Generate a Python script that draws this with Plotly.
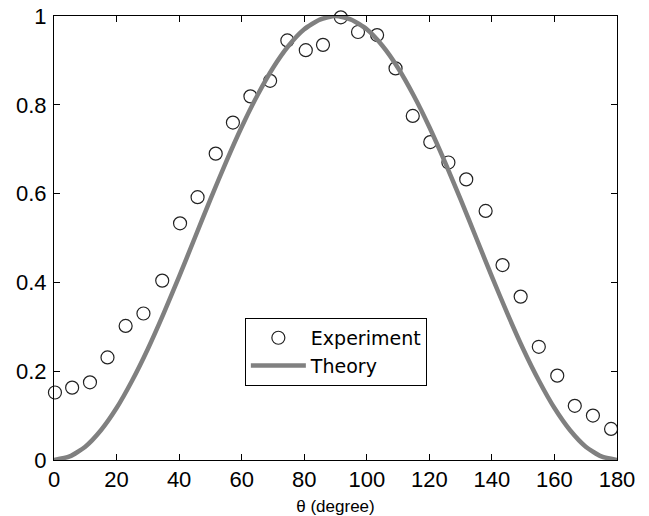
import plotly.graph_objects as go

# Experimental data (theta in degrees, normalized intensity)
exp_theta = [0.3, 5.8, 11.5, 17.1, 22.9, 28.6, 34.6, 40.3, 45.9, 51.7, 57.2, 62.8,
             69.1, 74.6, 80.5, 86.0, 91.7, 97.2, 103.3, 109.2, 114.7, 120.3, 126.1,
             131.8, 138.0, 143.4, 149.2, 155.0, 160.9, 166.5, 172.3, 178.1]
exp_value = [0.152, 0.163, 0.175, 0.231, 0.302, 0.330, 0.404, 0.533, 0.592, 0.690,
             0.760, 0.819, 0.854, 0.945, 0.923, 0.935, 0.997, 0.964, 0.957, 0.882,
             0.775, 0.716, 0.670, 0.632, 0.561, 0.439, 0.368, 0.255, 0.190, 0.122,
             0.100, 0.070]

# Theory curve
theory_theta = [0, 5, 10, 15, 20, 25, 30, 35, 40, 45, 50, 55, 60, 65, 70, 75, 80, 85, 90,
                95, 100, 105, 110, 115, 120, 125, 130, 135, 140, 145, 150, 155, 160, 165,
                170, 175, 180]
theory_value = [0.0, 0.008, 0.03, 0.067, 0.117, 0.179, 0.25, 0.329, 0.413, 0.5, 0.587,
                0.671, 0.75, 0.821, 0.883, 0.933, 0.97, 0.992, 1.0, 0.992, 0.97, 0.933,
                0.883, 0.821, 0.75, 0.671, 0.587, 0.5, 0.413, 0.329, 0.25, 0.179, 0.117,
                0.067, 0.03, 0.008, 0.0]

x_ticks = [0, 20, 40, 60, 80, 100, 120, 140, 160, 180]
y_ticks = [0, 0.2, 0.4, 0.6, 0.8, 1]
y_ticklabels = ["0", "0.2", "0.4", "0.6", "0.8", "1"]

FONT = "Liberation Sans, Arial, sans-serif"

fig = go.Figure()
fig.add_trace(go.Scatter(
    x=exp_theta, y=exp_value, mode="markers", name="Experiment",
    marker=dict(symbol="circle-open", size=13, color="#222222", line=dict(width=1.2)),
    cliponaxis=False,
))
fig.add_trace(go.Scatter(
    x=theory_theta, y=theory_value, mode="lines", name="Theory",
    line=dict(color="#808080", width=4.5, shape="spline", smoothing=0.6),
    cliponaxis=False,
))

axis_common = dict(
    showline=True, linecolor="black", linewidth=1, mirror="ticks",
    ticks="inside", ticklen=6, tickcolor="black", showgrid=False, zeroline=False,
    automargin=False, ticklabeloverflow="allow",
    tickfont=dict(family=FONT, size=22, color="black"),
)

fig.update_layout(
    width=649, height=516,
    margin=dict(l=54, r=32, t=16, b=56, autoexpand=False),
    paper_bgcolor="white", plot_bgcolor="white",
    xaxis=dict(range=[0, 180], tickvals=x_ticks, **axis_common,
               title=dict(text="θ (degree)", standoff=9,
                          font=dict(family=FONT, size=17, color="black"))),
    yaxis=dict(range=[0, 1], tickvals=y_ticks, ticktext=y_ticklabels,
               ticklabelstandoff=2, **axis_common),
    legend=dict(x=0.339, y=0.32, xanchor="left", yanchor="top",
                bordercolor="black", borderwidth=1, bgcolor="white",
                font=dict(family="DejaVu Sans, sans-serif", size=19, color="black"),
                tracegroupgap=0, itemwidth=55),
    showlegend=True,
)

# Remove the default page margin so the figure fills the window exactly.
fig.write_html("out.html",
               config={"displayModeBar": False},
               post_script="document.body.style.margin='0';document.body.style.overflow='hidden';")
